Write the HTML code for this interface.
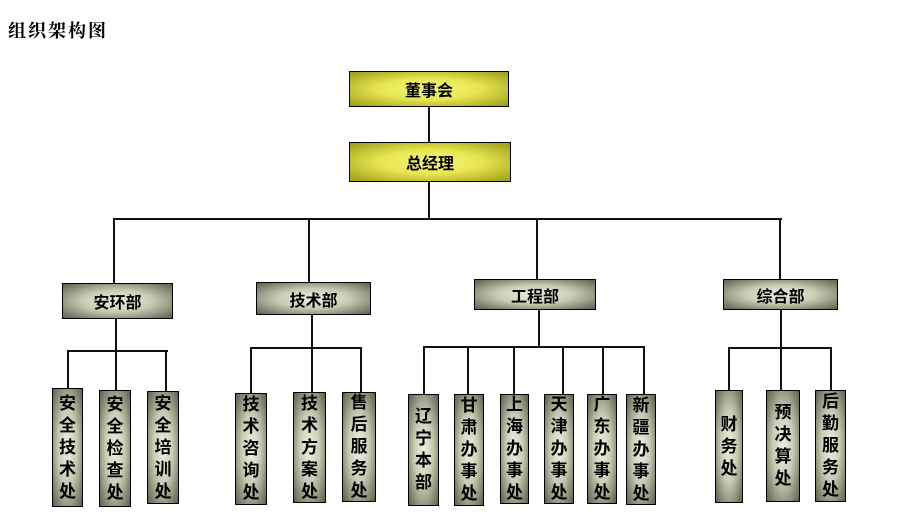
<!DOCTYPE html>
<html><head><meta charset="utf-8"><style>
body{margin:0;width:899px;height:521px;background:#fff;position:relative;overflow:hidden;font-family:"Liberation Serif","Noto Serif CJK SC","Noto Sans CJK SC",serif}
.t{position:absolute;left:8px;top:17px;font-size:18px;font-weight:bold;letter-spacing:2px}
.b{position:absolute;box-sizing:border-box;border:1.5px solid #000;display:flex;align-items:center;justify-content:center;font-weight:bold;font-size:16px;font-family:"Liberation Sans","Noto Sans CJK SC",sans-serif}
.y{background:radial-gradient(ellipse at center,#f6f680 0%,#e6e650 45%,#9a9a18 100%)}
.g{background:radial-gradient(ellipse at center,#eef0e2 0%,#c8ccb4 45%,#5e5e4c 100%)}
.v{flex-direction:column;font-size:17px;line-height:22px;font-weight:bold}
.l{position:absolute;background:#111}
</style></head><body>
<div class="t">组织架构图</div>
<div class="b y" style="left:349px;top:71px;width:160px;height:36px">董事会</div>
<div class="b y" style="left:349px;top:142px;width:162px;height:40px">总经理</div>
<div class="l" style="left:428px;top:107px;width:2px;height:35px"></div>
<div class="l" style="left:428px;top:182px;width:2px;height:37px"></div>
<div class="l" style="left:113px;top:218px;width:669px;height:2px"></div>
<div class="l" style="left:113px;top:218px;width:2px;height:65px"></div>
<div class="l" style="left:308px;top:218px;width:2px;height:64px"></div>
<div class="l" style="left:536px;top:218px;width:2px;height:61px"></div>
<div class="l" style="left:779px;top:218px;width:2px;height:61px"></div>
<div class="b g" style="left:62px;top:283px;width:111px;height:36px">安环部</div>
<div class="b g" style="left:256px;top:282px;width:115px;height:33px">技术部</div>
<div class="b g" style="left:474px;top:279px;width:122px;height:31px">工程部</div>
<div class="b g" style="left:723px;top:279px;width:115px;height:31px">综合部</div>
<!-- group 1 -->
<div class="l" style="left:115px;top:319px;width:2px;height:32px"></div>
<div class="l" style="left:67px;top:350px;width:101px;height:2px"></div>
<div class="l" style="left:67px;top:350px;width:2px;height:38px"></div>
<div class="l" style="left:115px;top:350px;width:2px;height:40px"></div>
<div class="l" style="left:165px;top:350px;width:2px;height:41px"></div>
<div class="b g v" style="left:52px;top:388px;width:31px;height:119px">安<br>全<br>技<br>术<br>处</div>
<div class="b g v" style="left:99px;top:390px;width:32px;height:117px">安<br>全<br>检<br>查<br>处</div>
<div class="b g v" style="left:147px;top:391px;width:32px;height:113px">安<br>全<br>培<br>训<br>处</div>
<!-- group 2 -->
<div class="l" style="left:311px;top:315px;width:2px;height:33px"></div>
<div class="l" style="left:250px;top:347px;width:112px;height:2px"></div>
<div class="l" style="left:250px;top:347px;width:2px;height:46px"></div>
<div class="l" style="left:311px;top:347px;width:2px;height:45px"></div>
<div class="l" style="left:360px;top:347px;width:2px;height:45px"></div>
<div class="b g v" style="left:235px;top:393px;width:32px;height:112px">技<br>术<br>咨<br>询<br>处</div>
<div class="b g v" style="left:293px;top:392px;width:33px;height:111px">技<br>术<br>方<br>案<br>处</div>
<div class="b g v" style="left:342px;top:392px;width:34px;height:110px">售<br>后<br>服<br>务<br>处</div>
<!-- group 3 -->
<div class="l" style="left:538px;top:310px;width:2px;height:37px"></div>
<div class="l" style="left:423px;top:346px;width:221px;height:2px"></div>
<div class="l" style="left:423px;top:346px;width:2px;height:48px"></div>
<div class="l" style="left:467px;top:346px;width:2px;height:48px"></div>
<div class="l" style="left:513px;top:346px;width:2px;height:48px"></div>
<div class="l" style="left:562px;top:346px;width:2px;height:48px"></div>
<div class="l" style="left:602px;top:346px;width:2px;height:48px"></div>
<div class="l" style="left:643px;top:346px;width:2px;height:48px"></div>
<div class="b g v" style="left:408px;top:394px;width:31px;height:112px">辽<br>宁<br>本<br>部</div>
<div class="b g v" style="left:454px;top:394px;width:30px;height:112px">甘<br>肃<br>办<br>事<br>处</div>
<div class="b g v" style="left:500px;top:394px;width:29px;height:110px">上<br>海<br>办<br>事<br>处</div>
<div class="b g v" style="left:544px;top:394px;width:30px;height:110px">天<br>津<br>办<br>事<br>处</div>
<div class="b g v" style="left:587px;top:394px;width:30px;height:110px">广<br>东<br>办<br>事<br>处</div>
<div class="b g v" style="left:626px;top:394px;width:30px;height:111px">新<br>疆<br>办<br>事<br>处</div>
<!-- group 4 -->
<div class="l" style="left:780px;top:310px;width:2px;height:38px"></div>
<div class="l" style="left:728px;top:347px;width:104px;height:2px"></div>
<div class="l" style="left:728px;top:347px;width:2px;height:43px"></div>
<div class="l" style="left:780px;top:347px;width:2px;height:43px"></div>
<div class="l" style="left:830px;top:347px;width:2px;height:43px"></div>
<div class="b g v" style="left:715px;top:390px;width:28px;height:113px">财<br>务<br>处</div>
<div class="b g v" style="left:766px;top:390px;width:34px;height:112px">预<br>决<br>算<br>处</div>
<div class="b g v" style="left:815px;top:390px;width:31px;height:112px">后<br>勤<br>服<br>务<br>处</div>
</body></html>
